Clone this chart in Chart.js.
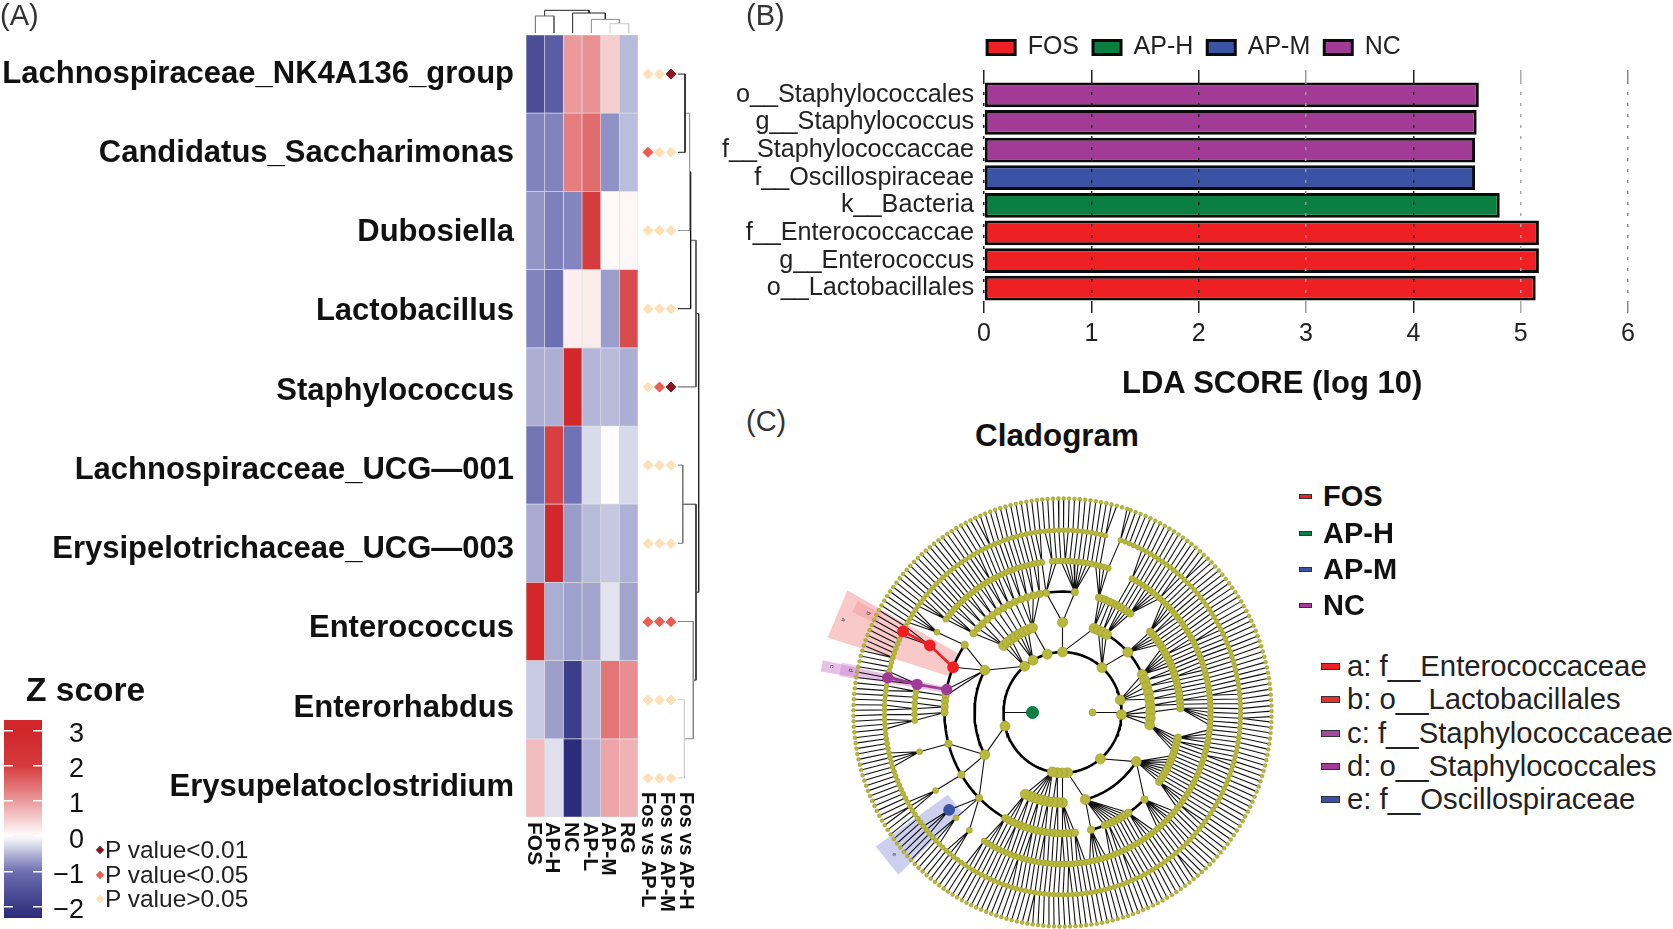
<!DOCTYPE html>
<html><head><meta charset="utf-8">
<style>
html,body{margin:0;padding:0;background:#fff;width:1673px;height:929px;overflow:hidden;font-family:"Liberation Sans",Arial,sans-serif;color:#1a1a1a}
canvas{position:absolute}
.t{position:absolute;white-space:nowrap;line-height:1;transform:translateY(-50%)}
.s{position:absolute;border:1px solid #333;box-sizing:border-box}
.d{position:absolute;width:6px;height:6px;transform:rotate(45deg)}
</style>
<script src="https://cdn.jsdelivr.net/npm/chart.js@4/dist/chart.umd.min.js"></script>
</head><body>
<div id="stage"></div>
<script>
/* ---------- Panel A data ---------- */
const rowLabels=['Lachnospiraceae_NK4A136_group','Candidatus_Saccharimonas','Dubosiella','Lactobacillus','Staphylococcus','Lachnospiracceae_UCG\u2014001','Erysipelotrichaceae_UCG\u2014003','Enterococcus','Enterorhabdus','Erysupelatoclostridium'];
const colLabels=['FOS','AP-H','NC','AP-L','AP-M','RG'];
const zFOS=[-1.65,-.86,-.74,-.86,-.56,-.96,-.59,2.9,-.37,.66];
const zAPH=[-1.35,-.86,-.88,-1.0,-.56,1.95,2.9,-.57,-.67,-.22];
const zNC=[1.0,1.29,-.85,.17,2.9,-.98,-.69,-.65,-1.95,-2.28];
const zAPL=[1.1,1.48,1.98,.19,-.51,-.26,-.48,-.63,-.48,-.55];
const zAPM=[.48,-.76,.05,-.68,-.48,.03,-.39,-.19,1.39,.9];
const zRG=[-.48,-.46,.08,1.82,-.56,-.27,-.55,-.63,1.13,.75];
const zTicks=[3,2,1,0,-1,-2];
/* significance class per row: 0 p>0.05, 1 p<0.05, 2 p<0.01 */
const compLabels=['Fos vs AP-L','Fos vs AP-M','Fos vs AP-H'];
const pFosAPL=[0,1,0,0,0,0,0,1,0,0];
const pFosAPM=[0,0,0,0,1,0,0,1,0,0];
const pFosAPH=[2,0,0,0,2,0,0,1,0,0];
/* dendrograms: [childA, childB, height, shade]; ids above leaf count are earlier merges */
const rowMerges=[[0,1,.34,'#222'],[10,2,.56,'#999'],[11,3,.61,'#111'],[12,4,.87,'#555'],[5,6,.23,'#777'],[8,9,.31,'#ccc'],[7,15,.74,'#888'],[14,16,.87,'#333'],[13,17,1,'#222']];
const colMerges=[[0,1,.75,'#666'],[4,5,.41,'#ccc'],[3,7,.60,'#888'],[2,8,.88,'#222'],[6,9,1,'#222']];

/* ---------- Panel B data ---------- */
const ldaLabels=['o__Staphylococcales','g__Staphylococcus','f__Staphylococcaccae','f__Oscillospiraceae','k__Bacteria','f__Enterococcaccae','g__Enterococcus','o__Lactobacillales'];
const ldaFOS=[null,null,null,null,null,5.17,5.17,5.14];
const ldaAPH=[null,null,null,null,4.805,null,null,null];
const ldaAPM=[null,null,null,4.575,null,null,null,null];
const ldaNC=[4.61,4.59,4.575,null,null,null,null,null];
const ldaGridShades=['#222','#222','#222','#999','#222','#aaa','#888'];

/* ---------- Panel C data: rings of the cladogram.
   Each run is [startDeg,endDeg,nodeCount]. */
const ringRadius=[30,59,88,118,148,178,209];
const ringNodeSize=[3.5,5,5,3.7,3,2.5,1.9];
const ring1=[[0,0,1]];
const ring2=[[90,90,1],[48,48,1],[12,12,1],[-2,-2,1],[-50,-50,1],[-85,-100,4],[193,193,1],[105,105,1],[120,120,1],[130,130,1]];
const ring3=[[90,90,1],[152,152,1],[208,208,1],[42,42,1],[-33,-33,1],[-75,-75,1],[-90,-115,9],[25,-8,9],[69,60,4],[132,110,8]];
const ring4=[[84,84,1],[98,139,14],[146,146,1],[172,180,4],[195,195,1],[211,211,1],[225,225,1],[241,276,18],[-76,-76,1],[-69,-56,8],[-46,-46,1],[-35,-12,14],[2,42,22],[55,72,10]];
const ring5=[[72,94,14],[98,142,28],[148,148,1],[172,183,6],[195,195,1],[211,211,1],[224,231,2],[238,315,48],[-44,62,66]];
const ring6=[[76,431,235]];
const ring7=[[72,431,245]];
/* arcs: [ringIndex,startDeg,endDeg] */
const arcs=[[1,0,360],[2,152,208],[2,-75,-33],[2,-115,-90],[2,-8,25],[2,25,62],[2,110,132],[3,84,98],[3,146,240],[3,-76,-46],[3,-35,-12],[3,98,139],[3,241,276],[3,2,42],[3,55,72]];
/* highlighted clades: [ringIndex,deg] */
const cladeGreen=[[0,180]];
const cladeRed=[[3,158],[4,153.7],[5,153.6]];
const cladePurple=[[3,169],[4,169.3],[5,169]];
const cladeBlue=[[4,220]];
/* shaded sectors: [rInner,rOuter,deg0,deg1,colour] */
const sectors=[[118,246,151,162.7,'rgba(245,165,165,.6)'],[205,232,152,155,'rgba(240,140,140,.5)'],[118,245,168,170.6,'rgba(205,130,205,.5)'],[207,226,167.5,171,'rgba(205,130,205,.4)'],[140,228,215,224,'rgba(170,175,225,.6)']];
const sectorNames=[['a',237,157.6],['b',217,153.5],['c',235,169],['d',216,169],['e',218,219.5]];
const treeTolerance=[0,0,25,20,8,2.4,2.4];

/* ---------- colour ramp ---------- */
const ramp=[[-2.3,[42,44,122]],[-1,[108,111,178]],[0,[255,255,255]],[1,[235,154,156]],[2,[214,58,60]],[3,[209,38,42]]];
function zColor(z){
  z=Math.max(ramp[0][0],Math.min(ramp[ramp.length-1][0],z));
  for(let i=0;i<ramp.length-1;i++){const [a,c0]=ramp[i],[b,c1]=ramp[i+1];
    if(z<=b){const t=(z-a)/(b-a);return 'rgb('+c0.map((v,k)=>Math.round(v+(c1[k]-v)*t)).join(',')+')';}}
}
/* ---------- helpers ---------- */
const FONT='"Liberation Sans",Arial,sans-serif';
Chart.defaults.font.family=FONT;Chart.defaults.color='#1a1a1a';Chart.defaults.animation=false;
Chart.defaults.plugins.legend.display=false;Chart.defaults.plugins.tooltip.enabled=false;
Chart.defaults.layout.autoPadding=false;
const stage=document.getElementById('stage');
function mk(l,t,w,h){const c=document.createElement('canvas');c.width=w;c.height=h;c.style.left=l+'px';c.style.top=t+'px';c.style.width=w+'px';c.style.height=h+'px';stage.appendChild(c);return c;}
function pin(size){return s=>{if(s.isHorizontal())s.height=size;else s.width=size;s.paddingLeft=s.paddingRight=s.paddingTop=s.paddingBottom=0;};}
function text(str,x,y,size,weight,extra){const d=document.createElement('div');d.className='t';d.textContent=str;d.style.cssText='left:'+x+'px;top:'+y+'px;font-size:'+size+'px;font-weight:'+(weight||'normal')+';'+(extra||'');stage.appendChild(d);}
function rotLabels(axisId,size,pad,dx){return {id:'rot'+axisId,afterDraw(ch){const s=ch.scales[axisId],c=ch.ctx;c.save();c.fillStyle='#111';c.font='bold '+size+'px '+FONT;c.textAlign='left';c.textBaseline='middle';
  s.ticks.forEach((t,i)=>{c.save();c.translate(s.getPixelForTick(i)+dx,s.top+pad);c.rotate(Math.PI/2);c.fillText(s.getLabelForValue(t.value),0,0);c.restore();});c.restore();}};}
function dendro(merges,leaves,leafPos){
  const pos=leafPos.slice(),h=leafPos.map(()=>0);
  return merges.map(([a,b,ht,shade])=>{
    const pts=[[pos[a],h[a]],[pos[a],ht],[pos[b],ht],[pos[b],h[b]]];
    pos.push((pos[a]+pos[b])/2);h.push(ht);
    return {pts,shade};
  });
}

/* ---------- A: row names (their spacing in the figure is slightly wider than the cells) ---------- */
new Chart(mk(0,0,530,929),{type:'bar',data:{labels:rowLabels,datasets:[]},
  options:{indexAxis:'y',responsive:false,layout:{padding:{top:34.4,bottom:102}},
    scales:{x:{display:false},y:{type:'category',offset:true,grid:{display:false,drawTicks:false},border:{display:false},ticks:{autoSkip:false,padding:12,color:'#111',font:{size:31,weight:'bold'}},afterFit:pin(526)}}}});

/* ---------- A: heatmap ---------- */
const heatCols=[zFOS,zAPH,zNC,zAPL,zAPM,zRG];
new Chart(mk(0,0,640,929),{type:'bar',
  data:{labels:rowLabels,datasets:heatCols.map((z,i)=>({label:colLabels[i],data:z.map(()=>1),backgroundColor:z.map(zColor),borderColor:'rgba(205,205,212,.55)',borderWidth:.7,borderSkipped:false,barPercentage:1,categoryPercentage:1}))},
  options:{indexAxis:'y',responsive:false,layout:{padding:{top:35,left:526,right:2}},
    scales:{
      x:{stacked:true,min:0,max:6,display:false},
      y:{stacked:true,display:false},
      col:{type:'category',labels:colLabels,position:'bottom',offset:true,grid:{display:false},border:{display:false},ticks:{display:false,autoSkip:false},afterFit:pin(112)}
    }},
  plugins:[rotLabels('col',21,5,-2)]});

/* ---------- A: significance diamonds ---------- */
const pColors=['#fde0b8','#ef5b4f','#8a1720'];
const pCols=[pFosAPL,pFosAPM,pFosAPH];
const pDatasets=pColors.map((col,lvl)=>({label:'p'+lvl,backgroundColor:col,borderColor:col,pointStyle:'rectRot',pointRadius:5,showLine:false,
  data:pCols.flatMap((arr,c)=>arr.map((p,r)=>p===lvl?{x:c,y:r+.5}:null).filter(Boolean))}));
new Chart(mk(630,0,70,929),{type:'scatter',data:{datasets:pDatasets},
  options:{responsive:false,layout:{padding:{top:35,left:8.5,right:4.5}},
    scales:{
      x:{min:-.826,max:4.13,display:false},
      y:{min:0,max:9.65,reverse:true,display:false},
      cmp:{type:'category',labels:compLabels,position:'bottom',offset:true,grid:{display:false},border:{display:false},ticks:{display:false,autoSkip:false},afterFit:pin(139)}
    }},
  plugins:[rotLabels('cmp',20,2,0)]});

/* ---------- A: dendrograms ---------- */
const rowTree=dendro(rowMerges,10,rowLabels.map((_,i)=>i+.5));
new Chart(mk(670,0,40,929),{type:'scatter',
  data:{datasets:rowTree.map(m=>({data:m.pts.map(p=>({x:p[1],y:p[0]})),showLine:true,pointRadius:0,borderColor:m.shade,borderWidth:1}))},
  options:{responsive:false,layout:{padding:{top:35,bottom:112}},scales:{x:{min:-.387,max:1.548,display:false},y:{min:0,max:10,reverse:true,display:false}}}});
const colTree=dendro(colMerges,6,colLabels.map((_,i)=>i+.5));
new Chart(mk(526,0,112,33),{type:'scatter',
  data:{datasets:colTree.map(m=>({data:m.pts.map(p=>({x:p[0],y:p[1]})),showLine:true,pointRadius:0,borderColor:m.shade,borderWidth:1}))},
  options:{responsive:false,scales:{x:{min:0,max:6,display:false},y:{min:0,max:1.454,display:false}}}});

/* ---------- A: colour bar, then its tick numbers (printed a little below the white marks in the figure) ---------- */
new Chart(mk(0,700,84,229),{type:'bar',
  data:{labels:['z'],datasets:[{data:[[-2.325,3.3]],barPercentage:1,categoryPercentage:1,
    backgroundColor(ctx){const ch=ctx.chart,a=ch.chartArea;if(!a)return '#ccc';const y=ch.scales.y,g=ch.ctx.createLinearGradient(0,a.bottom,0,a.top);
      for(let i=0;i<=40;i++){const z=-2.325+5.625*i/40;g.addColorStop(Math.min(1,(y.getPixelForValue(-2.325)-y.getPixelForValue(z))/(a.bottom-a.top)),zColor(z));}return g;}}]},
  options:{responsive:false,layout:{padding:{top:20,bottom:11,left:4}},
    scales:{
      x:{display:false},
      y:{position:'right',min:-2.325,max:3.3,border:{display:false,dash:[9,20]},
        grid:{color:'#fff',lineWidth:1.5,z:1,drawTicks:false},
        ticks:{display:false,stepSize:1,includeBounds:false},afterFit:pin(42)}
    }}});
new Chart(mk(0,704,84,225),{type:'bar',data:{labels:['z'],datasets:[]},
  options:{responsive:false,layout:{padding:{top:20,bottom:7,left:4}},
    scales:{
      x:{display:false},
      y:{position:'right',min:-2.325,max:3.3,border:{display:false},grid:{display:false,drawTicks:false},
        ticks:{stepSize:1,includeBounds:false,padding:5,crossAlign:'far',font:{size:27},color:'#111',callback:v=>zTicks.includes(v)?String(v).replace('-','\u2212'):''},
        afterFit:pin(42)}
    }}});

/* ---------- B: LDA bars ---------- */
const barDs=(label,data,col)=>({label,data,backgroundColor:col,borderColor:'#0a0a0a',borderWidth:3,borderSkipped:false,grouped:false,barPercentage:.9,categoryPercentage:1});
const ldaGrid=(drawArea)=>({color:c=>ldaGridShades[c.index]||'#222',lineWidth:1.5,tickBorderDash:[],tickLength:11,z:1,drawOnChartArea:drawArea});
new Chart(mk(700,0,1040,400),{type:'bar',
  data:{labels:ldaLabels,datasets:[barDs('FOS',ldaFOS,'#ee2024'),barDs('AP-H',ldaAPH,'#0b7f42'),barDs('AP-M',ldaAPM,'#3a53a4'),barDs('NC',ldaNC,'#a23b96')]},
  options:{indexAxis:'y',responsive:false,layout:{padding:{top:21,right:112}},
    plugins:{legend:{display:true,position:'top',labels:{boxWidth:28,boxHeight:14,padding:14,color:'#222',font:{size:25}}}},
    scales:{
      x:{min:0,max:6,position:'bottom',border:{display:false,dash:[3,8]},grid:ldaGrid(true),
        ticks:{stepSize:1,padding:6,color:'#222',font:{size:25},maxRotation:0},afterFit:pin(98)},
      top:{type:'linear',min:0,max:6,position:'top',border:{display:false,dash:[3,8]},grid:ldaGrid(false),ticks:{display:false,stepSize:1},afterFit:pin(11)},
      y:{border:{display:false},grid:{display:false,drawTicks:false},ticks:{autoSkip:false,padding:10,color:'#222',font:{size:25.2}},afterFit:pin(284)}
    }},
  plugins:[{id:'legendFit',beforeLayout(ch){ch.legend.afterFit=function(){this.height=46;};},afterLayout(ch){ch.legend.left+=30;ch.legend.right+=30;}}]});

/* ---------- C: cladogram ---------- */
const rings=[ring1,ring2,ring3,ring4,ring5,ring6,ring7];
const polar=(ringIdx,deg)=>{const a=deg*Math.PI/180,r=ringRadius[ringIdx];return {x:r*Math.cos(a),y:r*Math.sin(a)};};
const polarR=(r,deg)=>{const a=deg*Math.PI/180;return {x:r*Math.cos(a),y:r*Math.sin(a)};};
const expand=runs=>runs.flatMap(([s,e,n])=>Array.from({length:n},(_,i)=>n===1?s:s+(e-s)*i/(n-1)));
const highlighted=[cladeGreen,cladeRed,cladePurple,cladeBlue];
const ringAngles=rings.map((rn,i)=>expand(rn).concat(highlighted.flat().filter(c=>c[0]===i).map(c=>c[1])));
const norm=d=>((d%360)+360)%360;
const angDist=(a,b)=>{const d=Math.abs(norm(a)-norm(b));return Math.min(d,360-d);};
const spokes=[];
ringAngles.forEach((angs,k)=>{ if(k<2)return;
  angs.forEach(a=>{let best=null,bd=1e9;ringAngles[k-1].forEach(p=>{const d=angDist(a,p);if(d<bd){bd=d;best=p;}});
    if(bd<=treeTolerance[k]){spokes.push(polar(k,a),polar(k-1,best),{x:null,y:null});}});});
ringAngles[0].forEach(a=>{spokes.push(polar(0,a),polar(1,a),{x:null,y:null});});
const arcPts=[];
arcs.forEach(([k,s,e])=>{for(let d=s;d<e;d+=2)arcPts.push(polar(k,d));arcPts.push(polar(k,e),{x:null,y:null});});
const claDs=[];
sectors.forEach(([r0,r1,a0,a1,col])=>claDs.push({data:[polarR(r0,a0),polarR(r1,a0),polarR(r1,a1),polarR(r0,a1),polarR(r0,a0)],showLine:true,pointRadius:0,borderWidth:0,backgroundColor:col,borderColor:'rgba(0,0,0,0)',fill:'shape',order:6}));
claDs.push({data:spokes,showLine:true,pointRadius:0,borderColor:'#111',borderWidth:1.1,order:5});
claDs.push({data:arcPts,showLine:true,pointRadius:0,borderColor:'#000',borderWidth:2.6,order:4});
ringAngles.forEach((angs,k)=>{const hl=highlighted.flat().filter(c=>c[0]===k).map(c=>c[1]);
  claDs.push({data:angs.filter(a=>!hl.includes(a)).map(a=>polar(k,a)),showLine:false,pointRadius:ringNodeSize[k],backgroundColor:'#b7b83c',borderColor:'#9a9b2e',borderWidth:.6,order:3});});
const clade=(c,col,size)=>{claDs.push({data:c.map(p=>polar(p[0],p[1])),showLine:c.length>1,pointRadius:size,backgroundColor:col,borderColor:col,borderWidth:2.6,order:1});};
clade(cladeRed,'#ee2024',4.6);clade(cladePurple,'#a23b96',4.4);clade(cladeBlue,'#3a53a4',4.6);
claDs.push({data:cladeGreen.map(p=>polar(p[0],p[1])),showLine:false,pointRadius:6,backgroundColor:'#0b7f42',borderColor:'#0b7f42',order:1});
new Chart(mk(800,470,500,459),{type:'scatter',data:{datasets:claDs},
  options:{responsive:false,scales:{x:{min:-262.5,max:237.5,display:false},y:{min:-211.4,max:236.8,display:false}}},
  plugins:[{id:'sectorNames',afterDraw(ch){const c=ch.ctx,sx=ch.scales.x,sy=ch.scales.y;c.save();c.fillStyle='#333';c.font='6px '+FONT;c.textAlign='center';c.textBaseline='middle';
    sectorNames.forEach(([n,r,d])=>{const p=polarR(r,d);c.save();c.translate(sx.getPixelForValue(p.x),sy.getPixelForValue(p.y));c.rotate(Math.PI/2-d*Math.PI/180+Math.PI);c.fillText(n,0,0);c.restore();});c.restore();}}]});

/* ---------- annotation text ---------- */
text('(A)',0,15,29,'normal','color:#333');
text('(B)',746,15,29,'normal','color:#333');
text('(C)',746,421,29,'normal','color:#333');
text('LDA SCORE (log 10)',1122,382,31,'bold','color:#111');
text('Cladogram',975,436,31.4,'bold','color:#111');
text('Z score',26,690,33.5,'bold','color:#111');
const pLegend=['P value<0.01','P value<0.05','P value>0.05'];
[[850,2],[875,1],[899,0]].forEach(([y,l],i)=>{text(pLegend[i],105,y,24.5,'normal','color:#222');
  const d=document.createElement('div');d.className='d';d.style.left='97px';d.style.top=(y-3)+'px';d.style.background=pColors[l];stage.appendChild(d);});
const groupNames=['FOS','AP-H','AP-M','NC'],groupCols=['#ee2024','#0b7f42','#3a53a4','#a23b96'];
groupNames.forEach((n,i)=>{const y=[496,533,569,605][i];text(n,1323,y,29,'bold','color:#111');
  const s=document.createElement('div');s.className='s';s.style.cssText='left:1299px;top:'+(y-2.5)+'px;width:13px;height:5px;background:'+groupCols[i];stage.appendChild(s);});
const cladeNames=['a: f__Enterococcaceae','b: o__Lactobacillales','c: f__Staphylococcaceae','d: o__Staphylococcales','e: f__Oscillospiraceae'],cladeCols=['#ee2024','#e9302f','#a24b9e','#a23b96','#3a53a4'];
cladeNames.forEach((n,i)=>{const y=[666,699,733,766,799][i];text(n,1347,y,29.3,'normal','color:#222');
  const s=document.createElement('div');s.className='s';s.style.cssText='left:1321px;top:'+(y-3.5)+'px;width:19px;height:7px;background:'+cladeCols[i];stage.appendChild(s);});
</script>
</body></html>
